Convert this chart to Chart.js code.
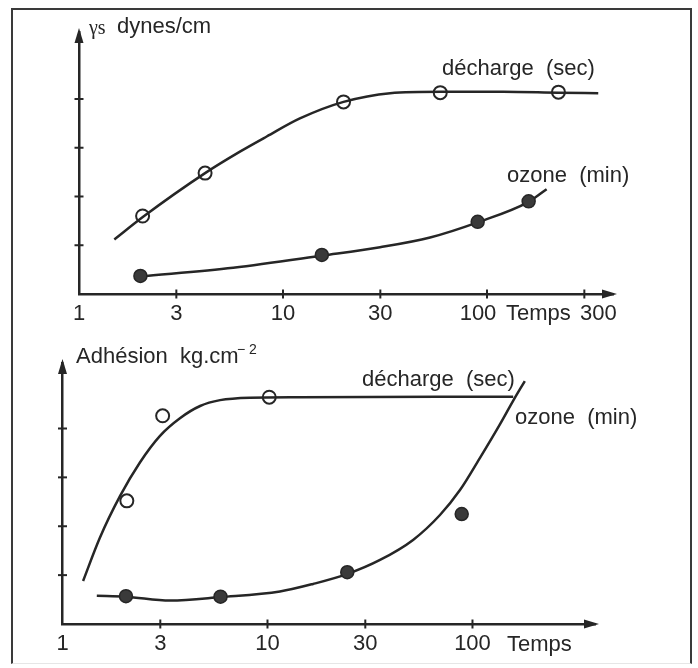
<!DOCTYPE html>
<html><head><meta charset="utf-8">
<script src="https://cdn.jsdelivr.net/npm/chart.js@4/dist/chart.umd.min.js"></script>
<style>
html,body{margin:0;padding:0;background:#fff;}
#wrap{position:relative;width:698px;height:668px;overflow:hidden;background:#fff;}
#frame{position:absolute;left:11px;top:8px;width:677px;height:653px;border:2px solid #3a3a3a;border-bottom:1px solid #e6e6e6;}
.pane{position:absolute;left:0;width:698px;height:334px;}
</style></head><body>
<div id="wrap">
<div id="frame"></div>
<div class="pane" style="top:0"><canvas id="c1" width="698" height="334"></canvas></div>
<div class="pane" style="top:334px"><canvas id="c2" width="698" height="334"></canvas></div>
</div>
<script>
// ---------- Top panel: surface tension (γs, dynes/cm) vs time ----------
const topXTicks = [1, 3, 10, 30, 100, 300];
const topYTicks = [1, 2, 3, 4];
const topDechargeX = [2.05, 4.15, 19.8, 59, 224];
const topDechargeY = [1.60, 2.48, 3.94, 4.13, 4.14];
const topDechargeCurveX = [1.49, 2.07, 4.15, 6.15, 8.32, 12.1, 19.8, 33.5, 60, 120, 224, 351];
const topDechargeCurveY = [1.12, 1.59, 2.48, 2.92, 3.23, 3.60, 3.94, 4.12, 4.15, 4.15, 4.13, 4.12];
const topOzoneX = [2, 15.5, 90, 160];
const topOzoneY = [0.37, 0.80, 1.48, 1.90];
const topOzoneCurveX = [2, 5.7, 15.7, 29.9, 52.6, 90, 160, 196];
const topOzoneCurveY = [0.36, 0.54, 0.79, 0.96, 1.16, 1.47, 1.89, 2.15];

// ---------- Bottom panel: adhesion (kg.cm-2) vs time ----------
const botXTicks = [1, 3, 10, 30, 100];
const botYTicks = [1, 2, 3, 4];
const botDechargeX = [2.06, 3.08, 10.2];
const botDechargeY = [2.52, 4.26, 4.64];
const botDechargeCurveX = [1.26, 1.52, 1.91, 2.39, 2.99, 3.74, 4.69, 5.87, 8.22, 14.4, 158];
const botDechargeCurveY = [0.88, 1.76, 2.62, 3.31, 3.85, 4.21, 4.46, 4.58, 4.63, 4.64, 4.65];
const botOzoneX = [2.04, 5.9, 24.5, 88.6];
const botOzoneY = [0.57, 0.56, 1.06, 2.25];
const botOzoneCurveX = [1.47, 2.04, 3.35, 5.91, 11.5, 16.7, 24.4, 35.4, 51.3, 69.4, 86.9, 108.8, 136.3, 157.6, 180];
const botOzoneCurveY = [0.58, 0.56, 0.48, 0.55, 0.665, 0.82, 1.02, 1.31, 1.72, 2.23, 2.74, 3.40, 4.09, 4.56, 4.97];

const INK = '#262626';
const FONT = '"Liberation Sans", Arial, sans-serif';
const zip = (xs, ys) => xs.map((x, i) => ({x: x, y: ys[i]}));

function curveDs(xs, ys) {
  return {data: zip(xs, ys), showLine: true, borderColor: INK, borderWidth: 2.5,
    pointRadius: 0, cubicInterpolationMode: 'monotone', fill: false, order: 2, clip: false};
}
function openDs(xs, ys) {
  return {data: zip(xs, ys), showLine: false, pointStyle: 'circle', pointRadius: 6.5,
    pointBorderWidth: 2, pointBorderColor: INK, pointBackgroundColor: 'rgba(0,0,0,0)', order: 0, clip: false};
}
function filledDs(xs, ys) {
  return {data: zip(xs, ys), showLine: false, pointStyle: 'circle', pointRadius: 6.5,
    pointBorderWidth: 1.5, pointBorderColor: INK, pointBackgroundColor: '#3a3a3a', order: 0, clip: false};
}

function decorPlugin(xTicks, yTicks, labelShift, texts) {
  return {
    id: 'decor',
    afterDraw(chart) {
      const ctx = chart.ctx, xs = chart.scales.x, ys = chart.scales.y, a = chart.chartArea;
      ctx.save();
      ctx.strokeStyle = INK; ctx.fillStyle = INK; ctx.lineWidth = 2;
      // tick marks crossing the axes
      xTicks.forEach(v => {
        if (v === xs.min) return;
        const p = xs.getPixelForValue(v);
        ctx.beginPath(); ctx.moveTo(p, a.bottom - 4.5); ctx.lineTo(p, a.bottom + 4.5); ctx.stroke();
      });
      yTicks.forEach(v => {
        const p = ys.getPixelForValue(v);
        ctx.beginPath(); ctx.moveTo(a.left - 4.5, p); ctx.lineTo(a.left + 4.5, p); ctx.stroke();
      });
      // arrow heads
      ctx.beginPath();
      ctx.moveTo(a.left, a.top - 4); ctx.lineTo(a.left - 4.5, a.top + 11); ctx.lineTo(a.left + 4.5, a.top + 11);
      ctx.closePath(); ctx.fill();
      ctx.beginPath();
      ctx.moveTo(a.right + 4, a.bottom); ctx.lineTo(a.right - 11, a.bottom - 4.5); ctx.lineTo(a.right - 11, a.bottom + 4.5);
      ctx.closePath(); ctx.fill();
      // x tick labels, placed through the x scale
      ctx.font = '22px ' + FONT;
      ctx.textBaseline = 'middle'; ctx.textAlign = 'center';
      xTicks.forEach((v, i) => {
        ctx.fillText(String(v), xs.getPixelForValue(v) + (labelShift[i] || 0), a.bottom + 20);
      });
      // text annotations
      ctx.textAlign = 'left';
      texts.forEach(t => {
        ctx.font = t.font || ('22px ' + FONT);
        ctx.fillText(t.s, t.x, t.y);
      });
      ctx.restore();
    }
  };
}

function makeChart(id, xTicks, yTicks, xMax, yMax, pad, labelShift, datasets, texts) {
  return new Chart(document.getElementById(id), {
    type: 'scatter',
    data: {datasets: datasets},
    options: {
      responsive: false, animation: false, events: [],
      layout: {padding: pad},
      plugins: {legend: {display: false}, tooltip: {enabled: false}},
      scales: {
        x: {type: 'logarithmic', min: 1, max: xMax, position: 'bottom',
          afterBuildTicks: s => { s.ticks = xTicks.map(v => ({value: v})); },
          afterFit: s => { s.height = 30; },
          grid: {display: false},
          border: {display: true, color: INK, width: 2.5},
          ticks: {display: false}},
        y: {type: 'linear', min: 0, max: yMax, position: 'left',
          afterBuildTicks: s => { s.ticks = yTicks.map(v => ({value: v})); },
          afterFit: s => { s.width = 0; },
          grid: {display: false},
          border: {display: true, color: INK, width: 2.5},
          ticks: {display: false}}
      }
    },
    plugins: [decorPlugin(xTicks, yTicks, labelShift, texts)]
  });
}

makeChart('c1', topXTicks, topYTicks, 414.6, 5.374,
  {left: 79, right: 85, top: 32, bottom: 10},
  [0, 0, 0, 0, -9, 14],
  [openDs(topDechargeX, topDechargeY), filledDs(topOzoneX, topOzoneY),
   curveDs(topDechargeCurveX, topDechargeCurveY), curveDs(topOzoneCurveX, topOzoneCurveY)],
  [
    {s: 'γs', x: 89, y: 29, font: '20px "Liberation Serif", serif'},
    {s: 'dynes/cm', x: 117, y: 27},
    {s: 'décharge  (sec)', x: 442, y: 69},
    {s: 'ozone  (min)', x: 507, y: 176},
    {s: 'Temps', x: 506, y: 314}
  ]);

makeChart('c2', botXTicks, botYTicks, 396, 5.34,
  {left: 62.5, right: 103, top: 29, bottom: 14},
  [0, 0, 0, 0, 0],
  [openDs(botDechargeX, botDechargeY), filledDs(botOzoneX, botOzoneY),
   curveDs(botDechargeCurveX, botDechargeCurveY), curveDs(botOzoneCurveX, botOzoneCurveY)],
  [
    {s: 'Adhésion  kg.cm', x: 76, y: 23},
    {s: '− 2', x: 237, y: 16, font: '14px ' + FONT},
    {s: 'décharge  (sec)', x: 362, y: 46},
    {s: 'ozone  (min)', x: 515, y: 84},
    {s: 'Temps', x: 507, y: 311}
  ]);
</script>
</body></html>
